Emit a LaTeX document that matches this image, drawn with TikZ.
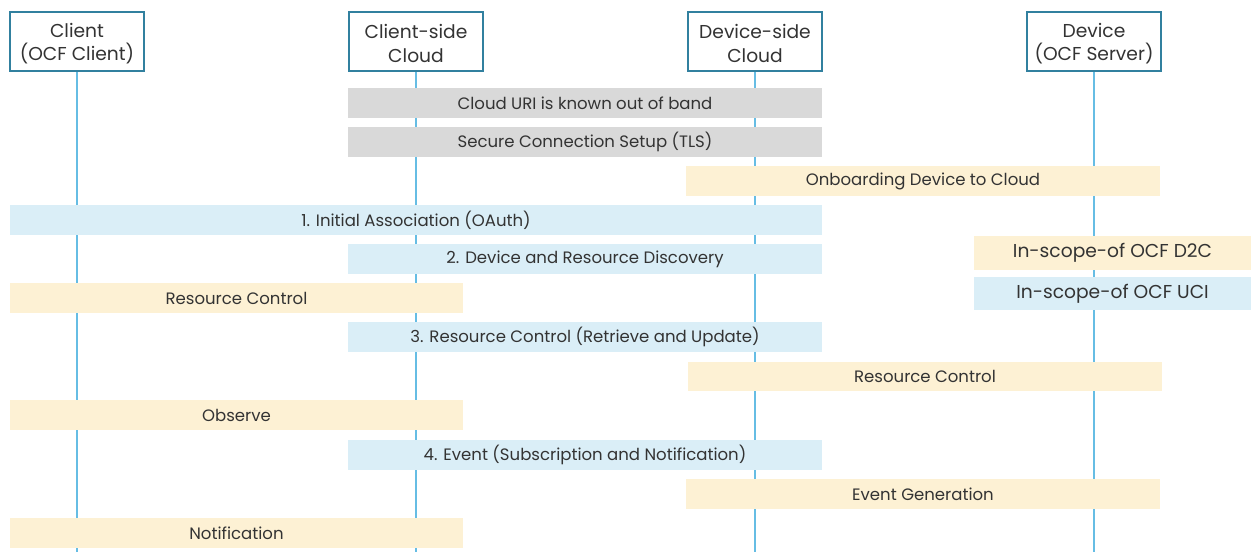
\documentclass[tikz,border=0pt]{standalone}
\usepackage{fontspec}
\setmainfont{Poppins}
\usetikzlibrary{fit}
\definecolor{hdr}{HTML}{31809F}
\definecolor{life}{HTML}{66BDE4}
\definecolor{gbar}{HTML}{D9D9D9}
\definecolor{ybar}{HTML}{FDF1D4}
\definecolor{bbar}{HTML}{DAEEF7}
\definecolor{txt}{HTML}{333333}
\begin{document}
\begin{tikzpicture}[x=0.75pt,y=-0.75pt,
  hbox/.style={draw=hdr,line width=2.2pt,fill=white,inner sep=0pt},
  htext/.style={text=txt,align=center,inner sep=0pt,yshift=-1.5pt,font=\fontsize{14}{17.5}\selectfont},
  lifeline/.style={draw=life,line width=1.1pt},
  bar/.style={inner sep=0pt},
  btext/.style={text=txt,inner sep=0pt,font=\fontsize{12.4}{14}\selectfont},
  ltext/.style={text=txt,inner sep=0pt,font=\fontsize{14}{16}\selectfont},
  graybar/.style={bar,fill=gbar},
  ybarst/.style={bar,fill=ybar},
  bbarst/.style={bar,fill=bbar}]
\useasboundingbox (0,0) rectangle (1251,552);
% headers
\node[hbox,fit={(10,12) (144,71)},label={[htext]center:Client\\(OCF Client)}] (h1) {};
\node[hbox,fit={(349,12) (483,71)},label={[htext]center:Client-side\\Cloud}] (h2) {};
\node[hbox,fit={(688,12) (822,71)},label={[htext]center:Device-side\\Cloud}] (h3) {};
\node[hbox,fit={(1027,12) (1161,71)},label={[htext]center:Device\\(OCF Server)}] (h4) {};
\coordinate (bottom) at (0,552);
\draw[lifeline] (h1.south) -- (h1.south |- bottom);
\draw[lifeline] (h2.south) -- (h2.south |- bottom);
\draw[lifeline] (h3.south) -- (h3.south |- bottom);
\draw[lifeline] (h4.south) -- (h4.south |- bottom);
% bars
\node[graybar,fit={(348,88) (822,118)},label={[btext]center:Cloud URI is known out of band}] (b1) {};
\node[graybar,fit={(348,127) (822,157)},label={[btext]center:Secure Connection Setup (TLS)}] (b2) {};
\node[ybarst,fit={(686,166) (1160,196)},label={[btext]center:Onboarding Device to Cloud}] (b3) {};
\node[bbarst,fit={(10,205) (822,235)},label={[btext]center:1. Initial Association (OAuth)}] (b4) {};
\node[bbarst,fit={(348,244) (822,274)},label={[btext]center:2. Device and Resource Discovery}] (b5) {};
\node[ybarst,fit={(10,283) (463,313)},label={[btext]center:Resource Control}] (b6) {};
\node[bbarst,fit={(348,322) (822,352)},label={[btext]center:3. Resource Control (Retrieve and Update)}] (b7) {};
\node[ybarst,fit={(688,362) (1162,391)},label={[btext]center:Resource Control}] (b8) {};
\node[ybarst,fit={(10,400) (463,430)},label={[btext]center:Observe}] (b9) {};
\node[bbarst,fit={(348,440) (822,470)},label={[btext]center:4. Event (Subscription and Notification)}] (b10) {};
\node[ybarst,fit={(686,479) (1160,509)},label={[btext]center:Event Generation}] (b11) {};
\node[ybarst,fit={(10,518) (463,548)},label={[btext]center:Notification}] (b12) {};
% legend
\node[bar,fill=ybar,fit={(974,236) (1251,270)},label={[ltext]center:In-scope-of OCF D2C}] (l1) {};
\node[bar,fill=bbar,fit={(974,277) (1251,310)},label={[ltext]center:In-scope-of OCF UCI}] (l2) {};
\end{tikzpicture}
\end{document}
